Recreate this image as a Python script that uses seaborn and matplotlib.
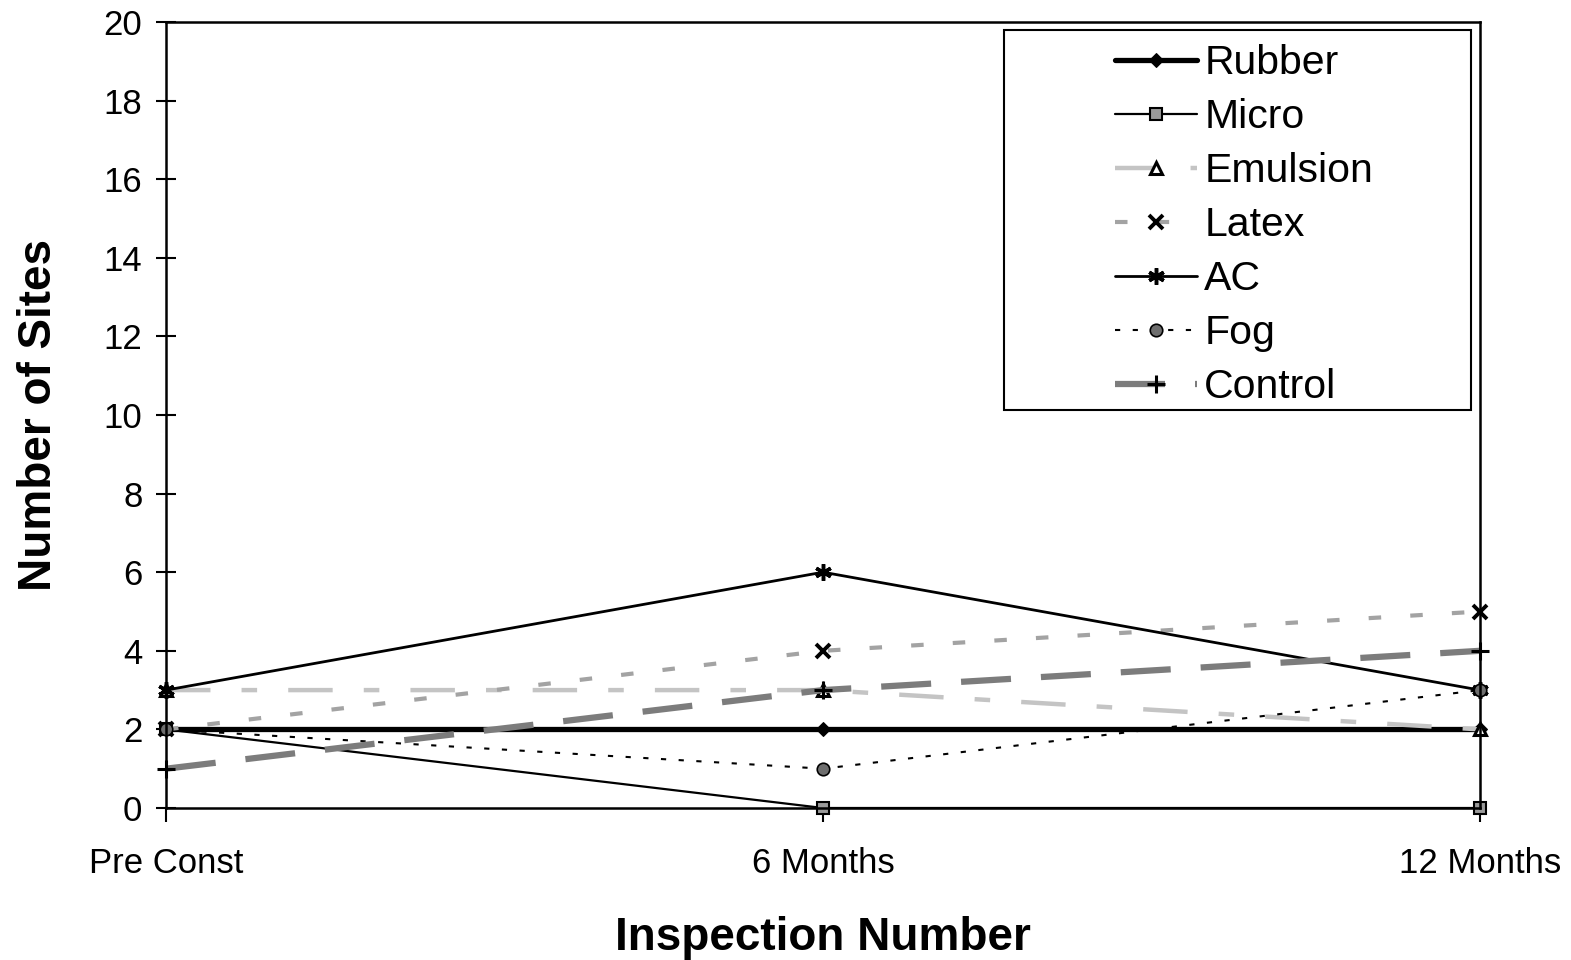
import matplotlib
matplotlib.use("Agg")
import matplotlib.pyplot as plt
import seaborn as sns
import pandas as pd
from matplotlib.patches import Rectangle

# ---- data ----
inspections = ["Pre Const", "6 Months", "12 Months"]
rubber = [2, 2, 2]
micro = [2, 0, 0]
emulsion = [3, 3, 2]
latex = [2, 4, 5]
ac = [3, 6, 3]
fog = [2, 1, 3]
control = [1, 3, 4]
series_names = ["Rubber", "Micro", "Emulsion", "Latex", "AC", "Fog", "Control"]
series_values = [rubber, micro, emulsion, latex, ac, fog, control]
y_ticks = list(range(0, 21, 2))

# ---- styles ----
styles = {
    "Rubber": dict(color="black", linewidth=3.8, linestyle="-", marker="D",
                   markersize=7, markerfacecolor="black", markeredgecolor="black"),
    "Micro": dict(color="black", linewidth=1.6, linestyle="-", marker="s",
                  markersize=9, markerfacecolor="#9a9a9a", markeredgecolor="black",
                  markeredgewidth=1.5),
    "Emulsion": dict(color="#c4c4c4", linewidth=3.2, linestyle=(0, (10, 7, 3.5, 7)),
                     marker="^", markersize=9, markerfacecolor="white",
                     markeredgecolor="black", markeredgewidth=2.2),
    "Latex": dict(color="#a3a3a3", linewidth=3.0, linestyle=(0, (3, 7)), marker="x",
                  markersize=10, markeredgecolor="black", markeredgewidth=2.8),
    "AC": dict(color="black", linewidth=2.0, linestyle="-", marker=(6, 2, 0),
               markersize=12, markeredgecolor="black", markeredgewidth=2.5),
    "Fog": dict(color="black", linewidth=1.5, linestyle=(0, (2.5, 6)), marker="o",
                markersize=9, markerfacecolor="#6e6e6e", markeredgecolor="black",
                markeredgewidth=1.2),
    "Control": dict(color="#7c7c7c", linewidth=4.5, linestyle=(0, (8, 4.8)), marker="+",
                    markersize=13, markeredgecolor="black", markeredgewidth=2.2),
}

sns.set_theme(style="white")
plt.rcParams["font.family"] = ["Liberation Sans", "DejaVu Sans"]
plt.rcParams["text.color"] = "black"
plt.rcParams["axes.labelcolor"] = "black"
plt.rcParams["xtick.color"] = "black"
plt.rcParams["ytick.color"] = "black"

fig = plt.figure(figsize=(15.71, 9.6), dpi=100)
ax = fig.add_axes([166 / 1571, 1 - 808 / 960, (1480 - 166) / 1571, (808 - 22) / 960])

for name, vals in zip(series_names, series_values):
    df = pd.DataFrame({"Inspection": inspections, "Sites": vals})
    sns.lineplot(data=df, x="Inspection", y="Sites", ax=ax, sort=False,
                 errorbar=None, label=name, legend=False, clip_on=False,
                 **styles[name])

ax.set_xlim(0, 2)
ax.set_ylim(0, 20)
ax.set_yticks(y_ticks)
ax.set_yticklabels([str(t) for t in y_ticks])

for sp in ax.spines.values():
    sp.set_visible(True)
    sp.set_color("black")
    sp.set_linewidth(1.8)

ax.tick_params(axis="y", direction="inout", length=14, width=1.5, pad=10,
               labelsize=25, colors="black", left=True)
ax.tick_params(axis="x", direction="out", length=10, width=1.5, pad=18,
               labelsize=25, colors="black", bottom=True)

ax.set_xlabel("Inspection Number", fontsize=33, fontweight="bold", labelpad=26,
              color="black")
ax.set_ylabel("Number of Sites", fontsize=33, fontweight="bold", labelpad=31,
              color="black")

handles, labels = ax.get_legend_handles_labels()
leg = fig.legend(handles, labels, loc="upper left",
                 bbox_to_anchor=(1115 / 1571, 1 - 44 / 960),
                 frameon=False, fontsize=29.5, borderpad=0, borderaxespad=0,
                 handlelength=2.0, handletextpad=0.18, labelspacing=0.39)
for t in leg.get_texts():
    t.set_color("black")

fig.patches.append(Rectangle((1004 / 1571, 1 - 410 / 960), (1471 - 1004) / 1571,
                             (410 - 30) / 960, transform=fig.transFigure,
                             facecolor="white", edgecolor="black", linewidth=1.5,
                             zorder=0.5))
leg.set_zorder(5)

fig.savefig("out.png", dpi=100, facecolor="white")
